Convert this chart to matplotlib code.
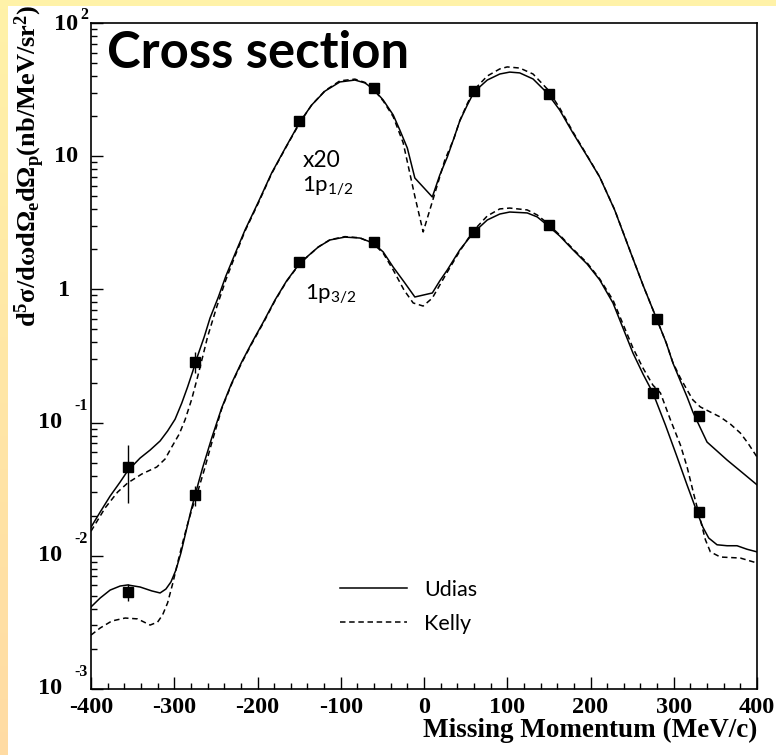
import numpy as np
import matplotlib
matplotlib.use("Agg")
import matplotlib.pyplot as plt
from matplotlib.ticker import MultipleLocator, NullFormatter, FixedLocator, FixedFormatter

plt.rcParams['mathtext.fontset'] = 'custom'
plt.rcParams['mathtext.rm'] = 'Liberation Serif:bold'
plt.rcParams['mathtext.it'] = 'Liberation Serif:bold:italic'
plt.rcParams['mathtext.bf'] = 'Liberation Serif:bold'
plt.rcParams['mathtext.sf'] = 'Lato'

# measured cross sections (1p1/2 scaled by 20)
pm_12 = [-355, -275, -150, -60, 60, 150, 280, 330]
xs_12 = [0.0466, 0.287, 18.3, 32.4, 30.8, 29.2, 0.60, 0.113]
err_12 = [0.0215, 0.05, 0, 0, 0, 0, 0, 0]

pm_32 = [-355, -275, -150, -60, 60, 150, 275, 330]
xs_32 = [0.00535, 0.0287, 1.6, 2.25, 2.68, 3.03, 0.168, 0.0214]
err_32 = [0.0008, 0.005, 0, 0, 0, 0, 0, 0]

# Udias calculation, 1p1/2 (x20)
udias_12_x = [-400, -389, -377, -365, -356, -341, -329, -317, -308, -299, -291, -284,
              -278, -272, -264, -257, -247, -238, -227, -215, -199, -183, -166, -149,
              -135, -119, -101, -83, -71, -61, -49, -37, -29, -20, -11, 10, 19, 28, 36,
              43, 52, 60, 76, 91, 103, 115, 131, 148, 163, 179, 196, 211, 229, 247, 263,
              280, 291, 299, 308, 316, 323, 332, 340, 352, 364, 383, 400]
udias_12_y = [0.0164, 0.0213, 0.0281, 0.0358, 0.0434, 0.0542, 0.0622, 0.0728, 0.0865,
              0.106, 0.140, 0.185, 0.240, 0.316, 0.440, 0.610, 0.877, 1.26, 1.85, 2.79,
              4.53, 7.48, 11.7, 18.1, 24.2, 30.8, 36.1, 37.3, 35.5, 32.0, 26.4, 20.4,
              15.7, 11.5, 6.86, 4.94, 7.23, 9.86, 13.7, 18.4, 24.2, 30.3, 37.3, 41.4,
              42.8, 42.2, 38.0, 29.8, 22.2, 14.9, 10.0, 6.98, 3.95, 1.98, 1.08, 0.589,
              0.396, 0.280, 0.205, 0.156, 0.120, 0.0910, 0.0714, 0.0612, 0.0524, 0.0418,
              0.0341]

# Kelly calculation, 1p1/2 (x20)
kelly_12_x = [-400, -383, -368, -356, -339, -321, -311, -303, -294, -287, -279, -272,
              -266, -260, -249, -238, -227, -215, -199, -183, -166, -149, -135, -119,
              -101, -83, -71, -61, -49, -37, -25, -11, -1, 11, 25, 36, 43, 52, 60, 76,
              91, 100, 115, 131, 148, 163, 179, 196, 211, 229, 247, 263, 280, 291, 299,
              308, 316, 323, 332, 344, 356, 368, 380, 389, 400]
kelly_12_y = [0.0153, 0.0229, 0.0301, 0.0352, 0.0411, 0.0464, 0.0533, 0.0656, 0.0821,
              0.105, 0.150, 0.220, 0.310, 0.440, 0.738, 1.18, 1.78, 2.74, 4.45, 7.40,
              11.6, 17.9, 24.2, 31.0, 36.8, 37.9, 35.8, 32.0, 26.0, 19.8, 12.6, 5.00,
              2.70, 4.78, 9.35, 13.6, 18.5, 24.8, 31.4, 40.0, 45.2, 46.8, 45.9, 41.4,
              32.0, 23.0, 15.2, 10.1, 7.00, 3.97, 1.99, 1.08, 0.589, 0.396, 0.282, 0.216,
              0.176, 0.148, 0.131, 0.120, 0.110, 0.0975, 0.0835, 0.0703, 0.0552]

# Udias calculation, 1p3/2
udias_32_x = [-400, -389, -377, -365, -356, -341, -327, -317, -310, -304, -298, -292,
              -286, -280, -275, -266, -255, -243, -231, -219, -207, -193, -179, -165,
              -149, -127, -113, -95, -77, -61, -49, -37, -24, -11, 10, 19, 28, 43, 59,
              76, 91, 103, 124, 136, 148, 163, 179, 196, 211, 227, 239, 251, 263, 275,
              290, 304, 316, 328, 335, 342, 352, 364, 376, 388, 400]
udias_32_y = [0.00413, 0.00482, 0.00553, 0.00593, 0.00604, 0.00583, 0.00545, 0.00526,
              0.00563, 0.00636, 0.00782, 0.0105, 0.0151, 0.0217, 0.0286, 0.0456, 0.0766,
              0.129, 0.198, 0.285, 0.396, 0.569, 0.832, 1.16, 1.58, 2.08, 2.35, 2.47,
              2.43, 2.23, 1.91, 1.47, 1.14, 0.877, 0.940, 1.16, 1.40, 1.98, 2.65, 3.32,
              3.68, 3.81, 3.75, 3.50, 3.04, 2.52, 1.98, 1.55, 1.18, 0.791, 0.513, 0.333,
              0.232, 0.167, 0.0959, 0.0552, 0.0340, 0.0213, 0.0164, 0.0136, 0.0121,
              0.0119, 0.0119, 0.0112, 0.0107]

# Kelly calculation, 1p3/2
kelly_32_x = [-400, -389, -375, -359, -344, -329, -320, -314, -308, -302, -296, -290,
              -284, -278, -273, -264, -254, -243, -231, -219, -207, -193, -179, -165,
              -149, -127, -113, -95, -77, -61, -49, -37, -24, -13, -1, 10, 19, 28, 43,
              59, 76, 91, 103, 124, 136, 148, 163, 179, 196, 211, 227, 239, 251, 263,
              275, 284, 296, 308, 316, 324, 332, 338, 344, 356, 380, 400]
kelly_32_y = [0.00254, 0.00287, 0.00324, 0.00341, 0.00336, 0.00302, 0.00318, 0.00360,
              0.00443, 0.00614, 0.00883, 0.0125, 0.0173, 0.0232, 0.0286, 0.0441, 0.0740,
              0.127, 0.195, 0.281, 0.390, 0.560, 0.822, 1.15, 1.57, 2.08, 2.36, 2.49,
              2.44, 2.21, 1.87, 1.40, 0.989, 0.791, 0.750, 0.861, 1.08, 1.35, 1.94, 2.74,
              3.56, 4.02, 4.08, 3.95, 3.62, 3.15, 2.56, 2.01, 1.58, 1.20, 0.832, 0.550,
              0.363, 0.257, 0.191, 0.167, 0.105, 0.0679, 0.0465, 0.0291, 0.0186, 0.0132,
              0.0107, 0.00979, 0.00962, 0.00883]

x_ticks = [-400, -300, -200, -100, 0, 100, 200, 300, 400]
x_tick_labels = ['-400', '-300', '-200', '-100', '0', '100', '200', '300', '400']

W, H = 776, 755
fig = plt.figure(figsize=(W / 100, H / 100), dpi=100)

# slide background: yellow band on top, yellow-to-peach band on the left
bg = np.ones((H, W, 3))
bg[:6, :] = (1.0, 0.95, 0.66)
t = np.linspace(0, 1, H)[:, None]
left = (1 - t) * np.array([1.0, 0.95, 0.66]) + t * np.array([1.0, 0.86, 0.64])
bg[:, :8] = left[:, None, :]
fig.figimage(bg, xo=0, yo=0, origin='upper', zorder=-10)

ax = fig.add_axes([91 / W, 1 - 689 / H, (757 - 91) / W, (689 - 23) / H])
ax.set_zorder(5)
ax.set_yscale('log')
ax.set_xlim(-400, 400)
ax.set_ylim(1e-3, 1e2)

lw = 1.1
dash = (0, (3.6, 2.4))
l_u, = ax.plot(udias_12_x, udias_12_y, color='black', lw=lw, label='Udias')
l_k, = ax.plot(kelly_12_x, kelly_12_y, color='black', lw=lw, linestyle=dash, label='Kelly')
ax.plot(udias_32_x, udias_32_y, color='black', lw=lw)
ax.plot(kelly_32_x, kelly_32_y, color='black', lw=lw, linestyle=dash)

ax.errorbar(pm_12, xs_12, yerr=err_12, fmt='s', color='black', ms=6.5, elinewidth=1.0, capsize=0)
ax.errorbar(pm_32, xs_32, yerr=err_32, fmt='s', color='black', ms=6.5, elinewidth=1.0, capsize=0)

# axis ticks, ROOT style
ax.xaxis.set_major_locator(FixedLocator(x_ticks))
ax.xaxis.set_major_formatter(FixedFormatter(x_tick_labels))
ax.xaxis.set_minor_locator(MultipleLocator(20))
ax.yaxis.set_major_formatter(NullFormatter())
ax.yaxis.set_minor_formatter(NullFormatter())
ax.tick_params(which='major', direction='in', length=8.6, width=1.0, top=False, right=False, pad=6)
ax.tick_params(which='minor', direction='in', length=4.3, width=1.0, top=False, right=False)
for lab in ax.get_xticklabels():
    lab.set_fontfamily('Liberation Serif')
    lab.set_fontweight('bold')
    lab.set_fontsize(17.5)
for s in ax.spines.values():
    s.set_linewidth(1.2)

# y tick labels: mantissa and exponent as separate texts
tick_font = dict(family='Liberation Serif', weight='bold', color='black')
ytr = ax.get_yaxis_transform()
y_labels = [
    (1e2, '10', -13, -2, '2', -3, 8),
    (1e1, '10', -13, 0, None, 0, 0),
    (1e0, '1', -21, -1, None, 0, 0),
    (1e-1, '10', -29, 0, '-1', -3, 17),
    (1e-2, '10', -29, 0, '-2', -3, 17),
    (1e-3, '10', -29, 0, '-3', -3, 17),
]
for val, mant, mx, my, expo, ex, ey in y_labels:
    ax.annotate(mant, xy=(0, val), xycoords=ytr, xytext=(mx, my), textcoords='offset pixels',
                ha='right', va='center', fontsize=17.5, annotation_clip=False, **tick_font)
    if expo:
        ax.annotate(expo, xy=(0, val), xycoords=ytr, xytext=(ex, ey), textcoords='offset pixels',
                    ha='right', va='center', fontsize=11.5, annotation_clip=False, **tick_font)

fig.text(757 / W, 1 - 737 / H, 'Missing Momentum (MeV/c)', ha='right', va='baseline',
         fontsize=19.5, family='Liberation Serif', weight='bold', zorder=10)
fig.text(30 / W, 1 - 5 / H, r'$\mathrm{d^5\sigma/d\omega d\Omega_e d\Omega_p(nb/MeV/sr^2)}$',
         rotation=90, ha='center', va='top', fontsize=19, zorder=10)

# title sits inside the frame, so it is drawn on the axes
ax.text(107 / W, 1 - 68 / H, 'Cross section', transform=fig.transFigure, ha='left',
        va='baseline', fontsize=36.5, family='Lato', weight='bold', zorder=10)

ax.text(-146, 8.3, 'x20', ha='left', va='baseline', fontsize=16.5, family='Lato')
ax.text(-146, 5.4, r'$\mathsf{1p_{1/2}}$', ha='left', va='baseline', fontsize=16)
ax.text(-143, 0.83, r'$\mathsf{1p_{3/2}}$', ha='left', va='baseline', fontsize=16)

leg = ax.legend(handles=[l_u, l_k], loc='upper left', bbox_to_anchor=(340 / W, 1 - 580 / H),
                bbox_transform=fig.transFigure, frameon=False, borderpad=0, borderaxespad=0,
                handlelength=3.1, handletextpad=0.8, labelspacing=0.65,
                prop=dict(family='Lato', size=15.5))

fig.savefig('out.png', dpi=100)
